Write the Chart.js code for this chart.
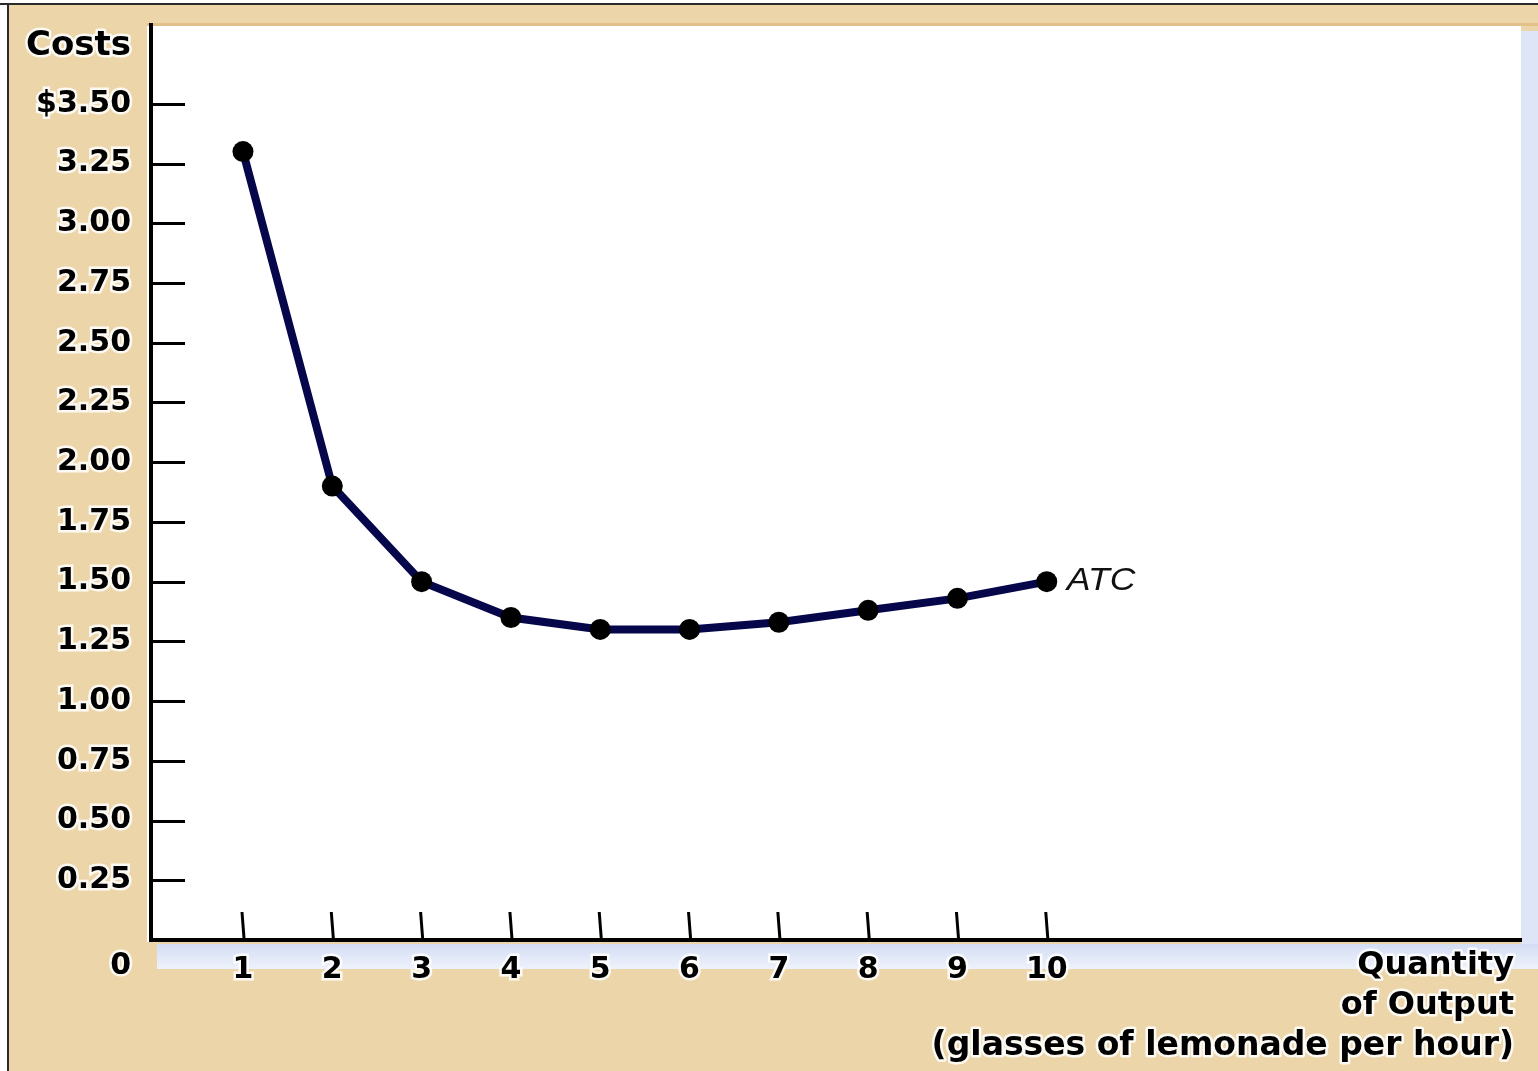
<!DOCTYPE html>
<html>
<head>
<meta charset="utf-8">
<script src="https://cdn.jsdelivr.net/npm/chart.js@4.4.1/dist/chart.umd.min.js"></script>
<style>
  html, body { margin: 0; padding: 0; background: #ffffff; }
  canvas { display: block; }
</style>
</head>
<body>
<canvas id="c" width="1538" height="1071"></canvas>
<script>
// ---- data ----
const quantities = [1, 2, 3, 4, 5, 6, 7, 8, 9, 10];
const atcValues = [3.30, 1.90, 1.50, 1.35, 1.30, 1.30, 1.33, 1.38, 1.43, 1.50];
const yTickValues = [0.25, 0.50, 0.75, 1.00, 1.25, 1.50, 1.75, 2.00, 2.25, 2.50, 2.75, 3.00, 3.25, 3.50];
const xTickValues = [1, 2, 3, 4, 5, 6, 7, 8, 9, 10];
const yAxisTitle = 'Costs';
const xAxisTitle = ['Quantity', 'of Output', '(glasses of lemonade per hour)'];
const curveLabel = 'ATC';
const originLabel = '0';

const LABEL_FONT = { family: 'DejaVu Sans', size: 30, weight: 'bold' };

function yTickText(v) {
  const s = v.toFixed(2);
  return v === 3.5 ? '$' + s : s;
}

const framePlugin = {
  id: 'frame',
  beforeDraw(chart) {
    const ctx = chart.ctx;
    const W = chart.width, H = chart.height;
    ctx.save();
    ctx.fillStyle = '#ffffff';
    ctx.fillRect(0, 0, W, H);
    // tan panel
    ctx.fillStyle = '#ecd5a8';
    ctx.fillRect(9, 5, W - 9, H - 5);
    // darker band under top edge
    ctx.fillStyle = '#e0c189';
    ctx.fillRect(147, 23, W - 147, 3);
    // outer borders
    ctx.fillStyle = '#2a2a2a';
    ctx.fillRect(0, 3, W, 2);
    ctx.fillRect(7, 3, 2, H - 3);
    // light blue right strip
    const ca = chart.chartArea;
    ctx.fillStyle = '#dde5f6';
    ctx.fillRect(ca.right, 31, W - ca.right, 938);
    // light blue strip under x axis
    const g = ctx.createLinearGradient(0, 944, 0, 969);
    g.addColorStop(0, '#d3ddf3');
    g.addColorStop(1, '#eef2fb');
    ctx.fillStyle = g;
    ctx.fillRect(157, 944, W - 157, 25);
    // white plot area
    ctx.fillStyle = '#ffffff';
    ctx.fillRect(147, 26, ca.right - 147, ca.bottom + 2 - 26);
    ctx.restore();
  },
  afterDraw(chart) {
    const ctx = chart.ctx;
    const xs = chart.scales.x, ys = chart.scales.y;
    const ca = chart.chartArea;
    ctx.save();
    ctx.strokeStyle = '#000';
    ctx.lineWidth = 3;
    ctx.lineCap = 'butt';
    // y ticks pointing inward
    yTickValues.forEach(v => {
      const py = Math.round(ys.getPixelForValue(v)) + 0.5;
      ctx.beginPath();
      ctx.moveTo(ca.left + 2, py);
      ctx.lineTo(ca.left + 34, py);
      ctx.stroke();
    });
    // x ticks pointing upward (slightly slanted)
    xTickValues.forEach(v => {
      const px = xs.getPixelForValue(v);
      ctx.beginPath();
      ctx.moveTo(px - 1, ca.bottom - 28);
      ctx.lineTo(px + 1, ca.bottom - 2);
      ctx.stroke();
    });

    function haloText(txt, x, y, font, align, baseline, sx) {
      ctx.save();
      ctx.font = font;
      ctx.textAlign = align;
      ctx.textBaseline = baseline;
      ctx.translate(x, y);
      ctx.scale(sx || 1, 1);
      ctx.lineJoin = 'round';
      ctx.strokeStyle = 'rgba(255,255,255,0.85)';
      ctx.lineWidth = 5;
      ctx.strokeText(txt, 0, 0);
      ctx.fillStyle = '#000';
      ctx.fillText(txt, 0, 0);
      ctx.restore();
    }
    // axis titles
    haloText(yAxisTitle, 131, 46, 'bold 34px "DejaVu Sans"', 'right', 'middle');
    haloText(originLabel, 131, 966, 'bold 30px "DejaVu Sans"', 'right', 'middle');
    const sizes = [32, 32, 33];
    xAxisTitle.forEach((t, i) => {
      haloText(t, 1514, 966 + i * 40, 'bold ' + sizes[i] + 'px "DejaVu Sans"', 'right', 'middle');
    });
    // curve label
    const last = atcValues.length - 1;
    const lx = xs.getPixelForValue(quantities[last]) + 20;
    const ly = ys.getPixelForValue(atcValues[last]);
    ctx.save();
    ctx.font = 'italic 31px "Liberation Sans"';
    ctx.textAlign = 'left';
    ctx.textBaseline = 'middle';
    ctx.translate(lx, ly);
    ctx.scale(1.15, 1);
    ctx.fillStyle = '#111';
    ctx.fillText(curveLabel, 0, 0);
    ctx.restore();
    ctx.restore();
  }
};

new Chart(document.getElementById('c'), {
  type: 'line',
  data: {
    datasets: [{
      label: curveLabel,
      data: quantities.map((q, i) => ({ x: q, y: atcValues[i] })),
      borderColor: '#06064a',
      borderWidth: 8,
      pointRadius: 10.5,
      pointBackgroundColor: '#000',
      pointBorderWidth: 0,
      pointHoverRadius: 10.5,
      tension: 0,
      fill: false
    }]
  },
  options: {
    responsive: false,
    devicePixelRatio: 1,
    animation: false,
    events: [],
    layout: { padding: { top: 25, right: 17, left: 0, bottom: 0 } },
    plugins: {
      legend: { display: false },
      tooltip: { enabled: false },
      title: { display: false }
    },
    scales: {
      x: {
        type: 'linear',
        min: -0.03,
        max: 15.31,
        afterBuildTicks: s => { s.ticks = xTickValues.map(v => ({ value: v })); },
        afterFit: s => { s.height = 131; s.paddingLeft = 0; s.paddingRight = 0; },
        grid: { display: false, drawTicks: false },
        border: { display: true, color: '#000', width: 4 },
        ticks: {
          autoSkip: false,
          maxRotation: 0,
          padding: 12,
          color: '#000',
          font: LABEL_FONT,
          textStrokeColor: 'rgba(255,255,255,0.85)',
          textStrokeWidth: 5,
          callback: v => String(v)
        }
      },
      y: {
        type: 'linear',
        min: 0,
        max: 3.83,
        afterBuildTicks: s => { s.ticks = yTickValues.map(v => ({ value: v })); },
        afterFit: s => { s.width = 151; s.paddingTop = 0; s.paddingBottom = 0; },
        grid: { display: false, drawTicks: false },
        border: { display: true, color: '#000', width: 4 },
        ticks: {
          autoSkip: false,
          padding: 20,
          color: '#000',
          font: LABEL_FONT,
          textStrokeColor: 'rgba(255,255,255,0.85)',
          textStrokeWidth: 5,
          callback: v => yTickText(v)
        }
      }
    }
  },
  plugins: [framePlugin]
});
</script>
</body>
</html>
